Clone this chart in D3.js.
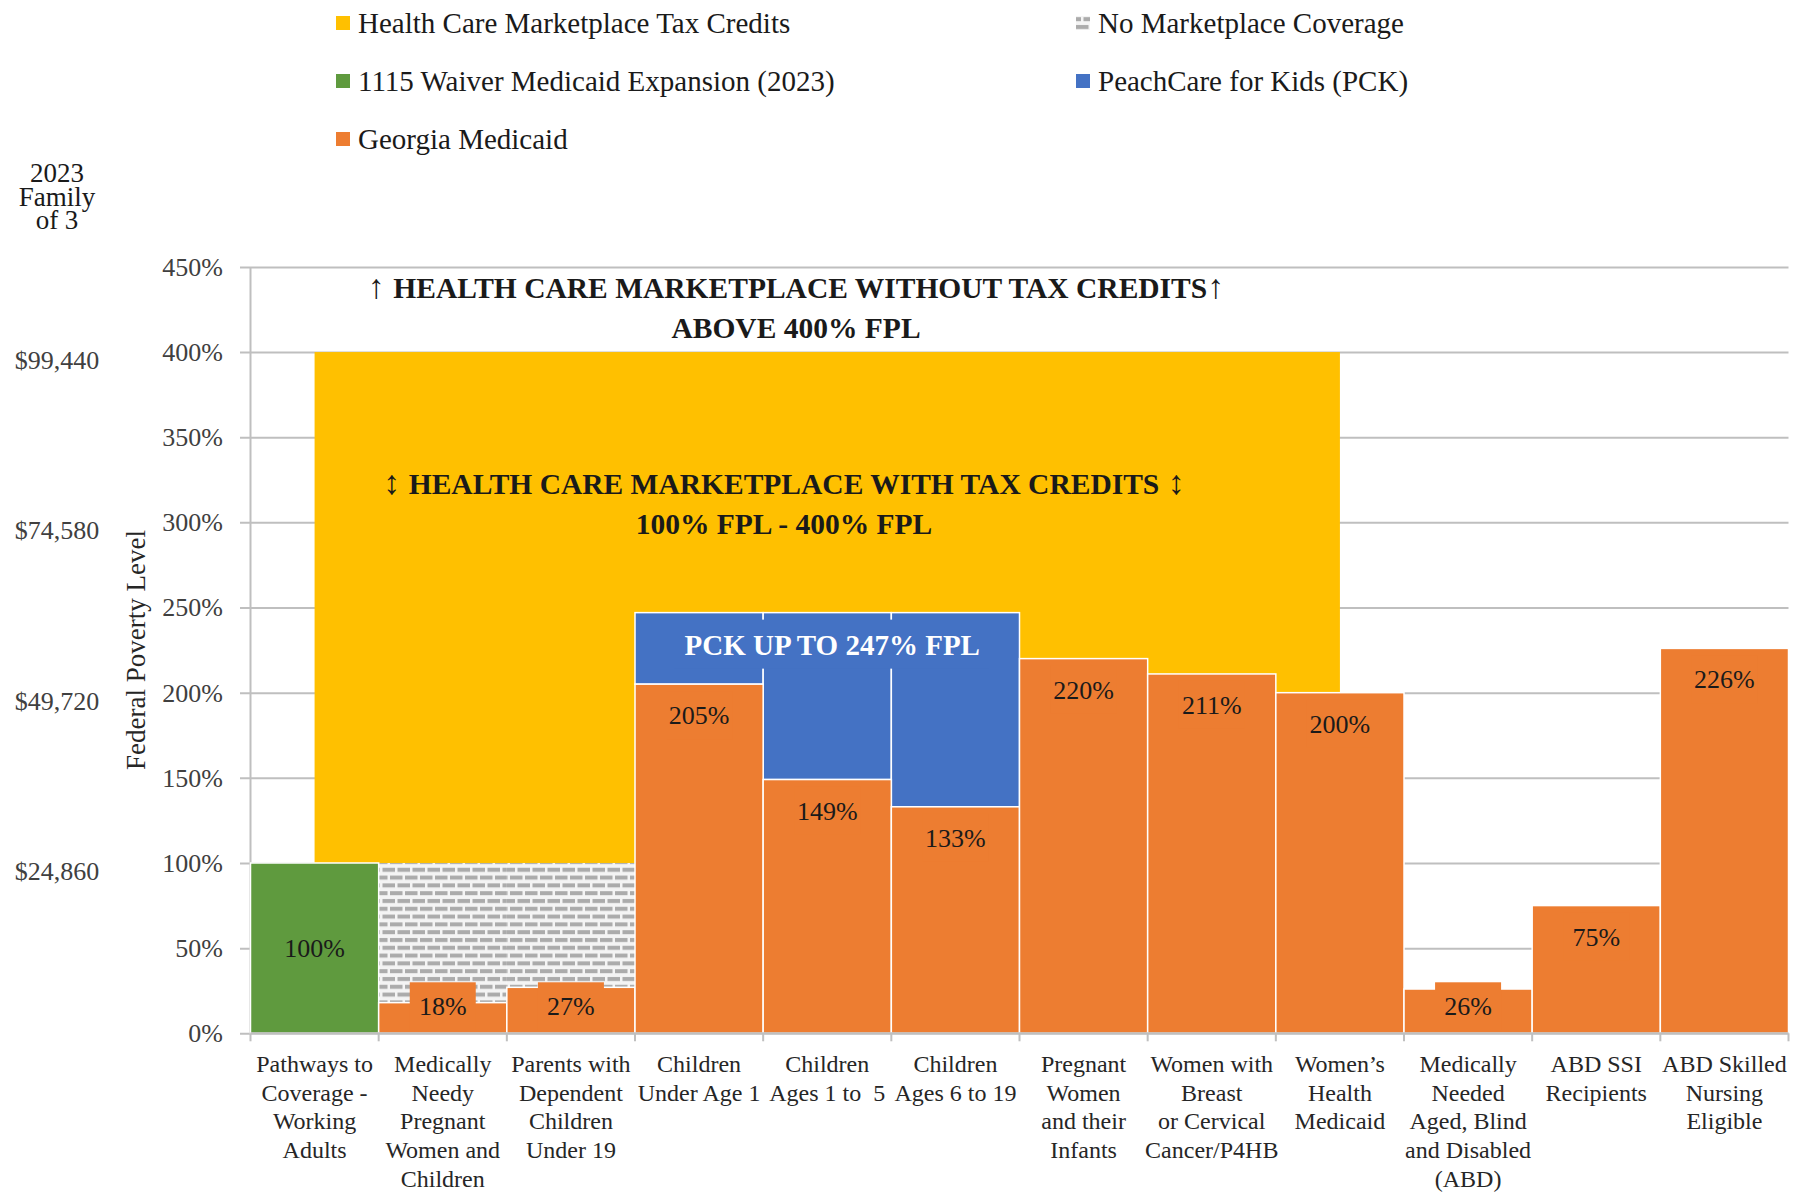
<!DOCTYPE html>
<html>
<head>
<meta charset="utf-8">
<script src="https://cdnjs.cloudflare.com/ajax/libs/d3/7.8.5/d3.min.js"></script>
<style>
  body { margin: 0; background: #fff; }
  text { font-family: "Liberation Serif", "DejaVu Serif", serif; white-space: pre; }
</style>
</head>
<body>
<svg id="chart" width="1802" height="1193"></svg>
<script>
// ---- data ----
const categories = [
  ["Pathways to", "Coverage -", "Working", "Adults"],
  ["Medically", "Needy", "Pregnant", "Women and", "Children"],
  ["Parents with", "Dependent", "Children", "Under 19"],
  ["Children", "Under Age 1"],
  ["Children", "Ages 1 to  5"],
  ["Children", "Ages 6 to 19"],
  ["Pregnant", "Women", "and their", "Infants"],
  ["Women with", "Breast", "or Cervical", "Cancer/P4HB"],
  ["Women\u2019s", "Health", "Medicaid"],
  ["Medically", "Needed", "Aged, Blind", "and Disabled", "(ABD)"],
  ["ABD SSI", "Recipients"],
  ["ABD Skilled", "Nursing", "Eligible"]
];
const waiverValues     = [100, 0, 0, 0, 0, 0, 0, 0, 0, 0, 0, 0];
const noCoverageValues = [0, 100, 100, 0, 0, 0, 0, 0, 0, 0, 0, 0];
const medicaidValues   = [0, 18, 27, 205, 149, 133, 220, 211, 200, 26, 75, 226];
const pckValues        = [0, 0, 0, 247, 247, 247, 0, 0, 0, 0, 0, 0];
// marketplace band: 100% to 400% FPL, from the middle of the first to the middle of the ninth group
const marketplaceRange = [100, 400];
const marketplaceCats  = [0, 8];

const fplTicks = [0, 50, 100, 150, 200, 250, 300, 350, 400, 450];
const incomeLevels = [100, 200, 300, 400];
const incomeLabels = ["$24,860", "$49,720", "$74,580", "$99,440"];

const legendLabels = ["Health Care Marketplace Tax Credits", "No Marketplace Coverage",
                      "1115 Waiver Medicaid Expansion (2023)", "PeachCare for Kids (PCK)",
                      "Georgia Medicaid"];
const legendKeys = ["yellow", "hatch", "green", "blue", "orange"];

// ---- colours ----
const colors = { yellow: "#FFC000", green: "#5F9A3E", orange: "#ED7D31", blue: "#4472C4", grid: "#BFBFBF" };

const svg = d3.select("#chart");
const plotL = 250.5, plotR = 1788.5, plotB = 1033.3, plotT = 266.9;

const x = d3.scaleBand().domain(d3.range(categories.length)).range([plotL, plotR]).padding(0);
const y = d3.scaleLinear().domain([0, 450]).range([plotB, plotT]);
const bw = x.bandwidth();

// hatch pattern (brick look)
const defs = svg.append("defs");
const pat = defs.append("pattern").attr("id", "brick").attr("patternUnits", "userSpaceOnUse")
  .attr("width", 15).attr("height", 15.6);
pat.append("rect").attr("width", 15).attr("height", 15.6).attr("fill", "#f4f4f4");
pat.append("rect").attr("x", 0).attr("y", 2).attr("width", 12.5).attr("height", 4).attr("fill", "#ABABAB");
pat.append("rect").attr("x", -7.5).attr("y", 9.8).attr("width", 12.5).attr("height", 4).attr("fill", "#ABABAB");
pat.append("rect").attr("x", 7.5).attr("y", 9.8).attr("width", 12.5).attr("height", 4).attr("fill", "#ABABAB");

const fillFor = k => k === "hatch" ? "url(#brick)" : colors[k];

// gridlines + y tick labels
const yAxis = d3.axisLeft(y).tickValues(fplTicks).tickSize(plotR - 240).tickPadding(17)
  .tickFormat(d => d + "%");
const gy = svg.append("g").attr("transform", `translate(${plotR},0)`).call(yAxis);
gy.select(".domain").remove();
gy.selectAll("line").attr("stroke", colors.grid).attr("stroke-width", 2);
gy.selectAll("text").attr("font-size", 26).attr("fill", "#404040")
  .style("font-family", "'Liberation Serif', serif");

// y axis line
svg.append("line").attr("x1", plotL).attr("x2", plotL).attr("y1", plotT).attr("y2", plotB)
  .attr("stroke", colors.grid).attr("stroke-width", 2);

// marketplace block
svg.append("rect")
  .attr("x", x(marketplaceCats[0]) + bw / 2)
  .attr("width", x(marketplaceCats[1]) - x(marketplaceCats[0]))
  .attr("y", y(marketplaceRange[1]))
  .attr("height", y(marketplaceRange[0]) - y(marketplaceRange[1]))
  .attr("fill", colors.yellow);

// no coverage (hatched)
svg.selectAll(".nocov").data(noCoverageValues.map((v, i) => ({ v, i })).filter(d => d.v > 0))
  .enter().append("rect").attr("class", "nocov")
  .attr("x", d => x(d.i)).attr("width", bw)
  .attr("y", d => y(d.v)).attr("height", d => y(0) - y(d.v))
  .attr("fill", "url(#brick)");

// waiver
svg.selectAll(".waiver").data(waiverValues.map((v, i) => ({ v, i })).filter(d => d.v > 0))
  .enter().append("rect").attr("class", "waiver")
  .attr("x", d => x(d.i)).attr("width", bw)
  .attr("y", d => y(d.v)).attr("height", d => y(0) - y(d.v))
  .attr("fill", colors.green).attr("stroke", "#fff").attr("stroke-width", 1.5);

// PCK
svg.selectAll(".pck").data(pckValues.map((v, i) => ({ v, i })).filter(d => d.v > 0))
  .enter().append("rect").attr("class", "pck")
  .attr("x", d => x(d.i)).attr("width", bw)
  .attr("y", d => y(d.v)).attr("height", d => y(medicaidValues[d.i]) - y(d.v))
  .attr("fill", colors.blue).attr("stroke", "#fff").attr("stroke-width", 1.5);

// Georgia Medicaid
const med = medicaidValues.map((v, i) => ({ v, i })).filter(d => d.v > 0);
svg.selectAll(".med").data(med)
  .enter().append("rect").attr("class", "med")
  .attr("x", d => x(d.i)).attr("width", bw)
  .attr("y", d => y(d.v)).attr("height", d => y(0) - y(d.v))
  .attr("fill", colors.orange).attr("stroke", "#fff").attr("stroke-width", 1.5);

// data labels (inside end, with bar-coloured label box)
const labelY = v => Math.min(y(v) + 31, y(0) - 27);
svg.selectAll(".medbox").data(med)
  .enter().append("rect").attr("class", "medbox")
  .attr("x", d => x(d.i) + bw / 2 - 33).attr("width", 66)
  .attr("y", d => labelY(d.v) - 24).attr("height", 48)
  .attr("fill", colors.orange);
svg.selectAll(".medlbl").data(med)
  .enter().append("text").attr("class", "medlbl")
  .attr("x", d => x(d.i) + bw / 2).attr("y", d => labelY(d.v))
  .attr("dy", "0.35em").attr("text-anchor", "middle").attr("font-size", 26).attr("fill", "#1a1a1a")
  .text(d => d.v + "%");

waiverValues.forEach((v, i) => {
  if (v > 0) svg.append("text").attr("x", x(i) + bw / 2).attr("y", y(v / 2)).attr("dy", "0.35em")
    .attr("text-anchor", "middle").attr("font-size", 26).attr("fill", "#1a1a1a").text(v + "%");
});

// PCK label
const pckIdx = pckValues.map((v, i) => v > 0 ? i : -1).filter(i => i >= 0);
const pckCx = (x(pckIdx[0]) + x(pckIdx[pckIdx.length - 1]) + bw) / 2 + 5;
const pckTop = d3.max(pckValues);
const pckText = svg.append("text").attr("x", pckCx).attr("y", y(pckTop) + 32).attr("dy", "0.35em")
  .attr("text-anchor", "middle").attr("font-size", 29).attr("font-weight", "bold").attr("fill", "#fff")
  .text("PCK UP TO " + pckTop + "% FPL");
const pb = pckText.node().getBBox();
svg.insert("rect", () => pckText.node())
  .attr("x", pb.x - 10).attr("width", pb.width + 20)
  .attr("y", y(pckTop) + 7).attr("height", 49).attr("fill", colors.blue);

// bottom axis
svg.append("line").attr("x1", plotL).attr("x2", plotR).attr("y1", plotB).attr("y2", plotB)
  .attr("stroke", colors.grid).attr("stroke-width", 2);
svg.selectAll(".xtick").data(d3.range(categories.length + 1))
  .enter().append("line").attr("class", "xtick")
  .attr("x1", i => plotL + i * bw).attr("x2", i => plotL + i * bw)
  .attr("y1", plotB).attr("y2", plotB + 8)
  .attr("stroke", colors.grid).attr("stroke-width", 2);

const xl = svg.selectAll(".xlbl").data(categories)
  .enter().append("text").attr("class", "xlbl")
  .attr("text-anchor", "middle").attr("font-size", 24).attr("fill", "#262626");
xl.each(function (lines, i) {
  const t = d3.select(this);
  lines.forEach((ln, j) => {
    t.append("tspan").attr("x", x(i) + bw / 2).attr("y", 1072 + j * 28.7).text(ln);
  });
});

// annotations
const ann = svg.append("g").attr("font-weight", "bold").attr("font-size", 29.5).attr("fill", "#1a1a1a")
  .attr("text-anchor", "middle");
const a1 = ann.append("text").attr("x", 796).attr("y", y(425) - 22).attr("dy", "0.35em");
a1.append("tspan").attr("font-size", 34).attr("font-weight", "normal").text("\u2191 ");
a1.append("tspan").text("HEALTH CARE MARKETPLACE WITHOUT TAX CREDITS");
a1.append("tspan").attr("font-size", 34).attr("font-weight", "normal").text("\u2191");
ann.append("text").attr("x", 796).attr("y", y(425) + 18).attr("dy", "0.35em")
  .text("ABOVE 400% FPL");
const a2 = ann.append("text").attr("x", 784).attr("y", y(310) - 22).attr("dy", "0.35em");
a2.append("tspan").attr("font-size", 34).text("\u2195 ");
a2.append("tspan").text("HEALTH CARE MARKETPLACE WITH TAX CREDITS");
a2.append("tspan").attr("font-size", 34).text(" \u2195");
ann.append("text").attr("x", 784).attr("y", y(310) + 18).attr("dy", "0.35em")
  .text("100% FPL - 400% FPL");

// income labels
svg.selectAll(".inc").data(incomeLevels)
  .enter().append("text").attr("class", "inc")
  .attr("x", 57).attr("y", d => y(d) + 8).attr("dy", "0.35em")
  .attr("text-anchor", "middle").attr("font-size", 26).attr("fill", "#404040")
  .text((d, i) => incomeLabels[i]);

const fam = svg.append("text").attr("text-anchor", "middle").attr("font-size", 27).attr("fill", "#1a1a1a");
["2023", "Family", "of 3"].forEach((ln, j) => {
  fam.append("tspan").attr("x", 57).attr("y", 182 + j * 23.5).text(ln);
});

// y title
svg.append("text").attr("transform", `translate(145,650) rotate(-90)`)
  .attr("text-anchor", "middle").attr("font-size", 27).attr("fill", "#262626")
  .text("Federal Poverty Level");

// legend
const lg = svg.selectAll(".lg").data(legendLabels)
  .enter().append("g").attr("class", "lg")
  .attr("transform", (d, i) => `translate(${i % 2 === 0 ? 336 : 1076},${23 + Math.floor(i / 2) * 58})`);
lg.append("rect").attr("x", 0).attr("y", -7).attr("width", 14).attr("height", 14)
  .attr("fill", (d, i) => fillFor(legendKeys[i]));
lg.append("text").attr("x", 22).attr("dy", "0.35em").attr("font-size", 29).attr("fill", "#1a1a1a")
  .text(d => d);
</script>
</body>
</html>
